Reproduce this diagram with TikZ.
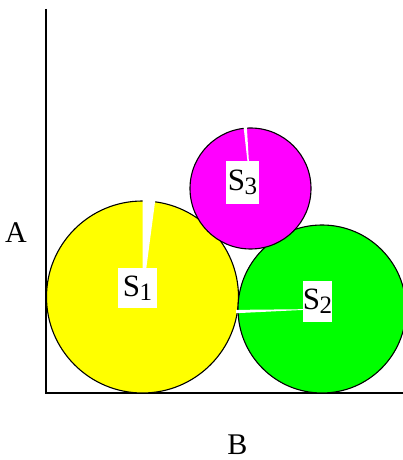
\documentclass[tikz,border=0pt]{standalone}
\usepackage{fontspec}
\setmainfont{Liberation Serif}
\definecolor{ballyellow}{RGB}{255,255,0}
\definecolor{ballgreen}{RGB}{0,255,0}
\definecolor{ballmagenta}{RGB}{255,0,255}
\newcommand\sublbl[1]{S\kern-0.5pt\raisebox{-4pt}{\fontsize{25}{25}\selectfont #1}}
\begin{document}
\begin{tikzpicture}[x=1pt,y=1pt,
  ball/.style={circle, draw=black, line width=1.1pt, inner sep=0pt},
  tag/.style={fill=white, inner sep=0pt, font=\fontsize{31}{31}\selectfont},
  axislbl/.style={inner sep=0pt, font=\fontsize{30}{30}\selectfont},
  axisline/.style={line width=1.8pt, black}]
\useasboundingbox (0,0) rectangle (403,460);
% axes
\coordinate (top) at (46,451);
\coordinate (origin) at (46,67);
\coordinate (right) at (404,67);
\draw[axisline] (top) -- (origin) -- (right);
% balls
\node[ball, fill=ballyellow, minimum size=192pt] (s1) at (142.5,163) {};
\node[ball, fill=ballgreen, minimum size=168pt] (s2) at (322,151) {};
\node[ball, fill=ballmagenta, minimum size=121pt] (s3) at (250.5,271.5) {};
% gaps
\fill[white] (s1.center) -- ++(82.5:98) arc[start angle=82.5, end angle=90, radius=98] -- cycle;
\fill[white] (s2.center) -- ++(180.6:86) arc[start angle=180.6, end angle=182.8, radius=86] -- cycle;
\fill[white] (s3.center) -- ++(93.4:62.5) arc[start angle=93.4, end angle=96.4, radius=62.5] -- cycle;
% labels
\node[tag, minimum width=39pt, minimum height=40pt] (l1) at (137.5,172) {\sublbl{1}};
\node[tag, minimum width=29pt, minimum height=41pt] (l2) at (317.5,158.5) {\sublbl{2}};
\node[tag, minimum width=33pt, minimum height=43pt] (l3) at (242.5,277.5) {\sublbl{3}};
% axis labels
\node[axislbl] (a) at (16,227) {A};
\node[axislbl] (b) at (237.5,15) {B};
\end{tikzpicture}
\end{document}
